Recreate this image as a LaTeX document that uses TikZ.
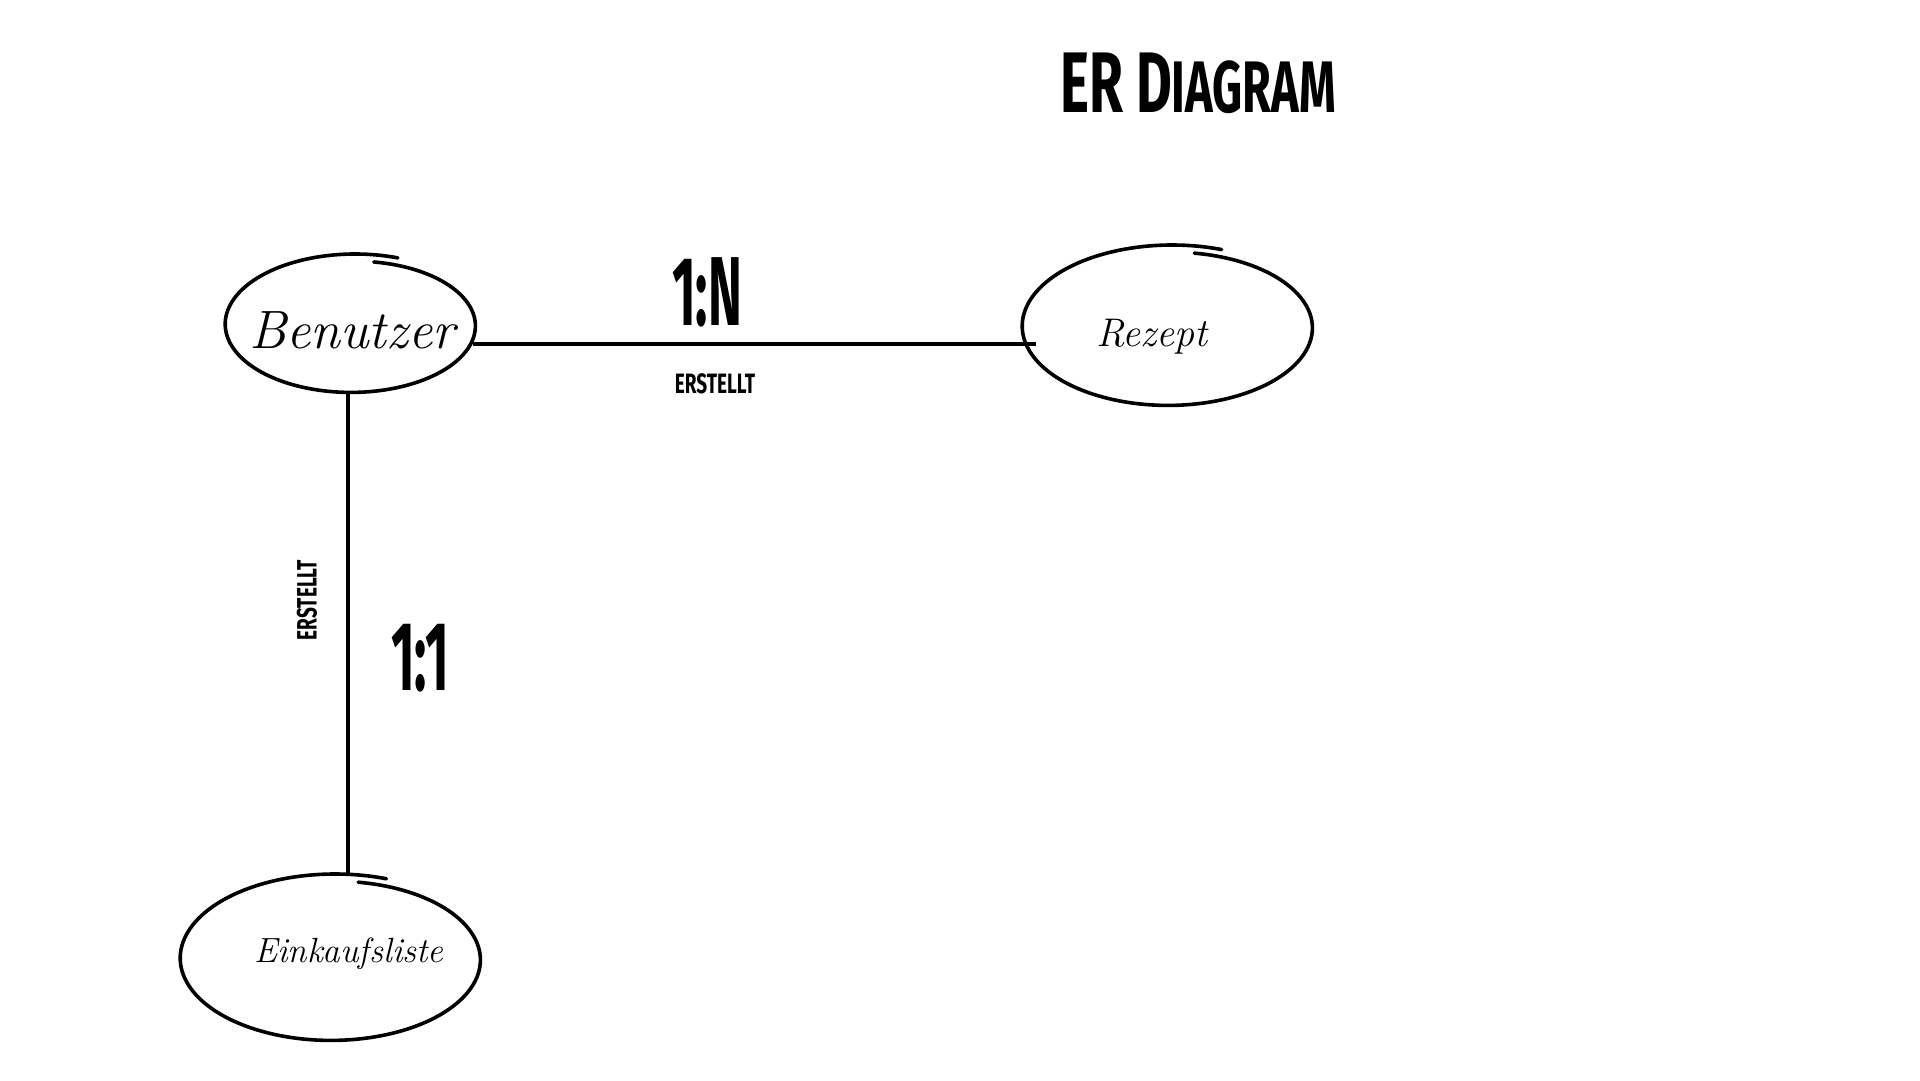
\documentclass[tikz,border=0pt]{standalone}
\usepackage{fontspec}
\usetikzlibrary{shapes.geometric,calc}
\newfontfamily\condfont[FakeStretch=0.68]{Fira Sans}
\newfontfamily\titlefont[FakeStretch=0.64]{Fira Sans}
\newfontfamily\cardfont[FakeStretch=0.52]{Fira Sans}
% hand-drawn (spiral) ellipse around a named node: #1 node, #2 rx, #3 ry at start
\newcommand\handell[3]{%
  \draw[handstroke, shift={(#1.center)}] plot[domain=80:-290, samples=160, smooth]
    ({(#2+0.03*(80-\x))*cos(\x)}, {-(#3+0.02*(80-\x))*sin(\x)});}
\tikzset{
  entity/.style={ellipse, draw=none, inner sep=0pt},
  handstroke/.style={line width=3.6pt, line cap=round, line join=round},
  conn/.style={line width=3.6pt},
  cardlabel/.style={font=\cardfont\bfseries\fontsize{98}{98}\selectfont},
  rellabel/.style={font=\condfont\bfseries\fontsize{28}{28}\selectfont},
}
\begin{document}
\begin{tikzpicture}[x=1pt,y=-1pt]
\path[use as bounding box] (0,0) rectangle (1920,1080);
% title
\node[font=\titlefont\bfseries\fontsize{86}{86}\selectfont] (title) at (1198,83) {ER D{\fontsize{73}{73}\selectfont IAGRAM}};
% entities
\node[entity, minimum width=250pt, minimum height=136pt] (benutzer) at (353,325) {};
\handell{benutzer}{120}{64}
\node[font=\itshape\fontsize{54}{54}\selectfont] (tbenutzer) at (352,330) {Benutzer};
\node[entity, minimum width=290pt, minimum height=158pt] (rezept) at (1170,327) {};
\handell{rezept}{140}{75}
\node[font=\itshape\fontsize{40}{40}\selectfont] (trezept) at (1152,337) {Rezept};
\node[entity, minimum width=300pt, minimum height=166pt] (einkauf) at (333,959) {};
\handell{einkauf}{145}{78}
\node[font=\itshape\fontsize{35}{35}\selectfont] (teinkauf) at (349,954) {Einkaufsliste};
% connectors
\draw[conn] (benutzer.-9) -- ($(benutzer.-9 -| rezept.west)+(11,0)$);
\draw[conn] (benutzer.266) -- (benutzer.266 |- einkauf.north);
% labels
\node[cardlabel] (cardN) at (707,292) {1:N};
\node[rellabel] (relN) at (715,384) {ERSTELLT};
\node[cardlabel] (card1) at (420,658) {1:1};
\node[rellabel, rotate=90] (rel1) at (307,600) {ERSTELLT};
\end{tikzpicture}
\end{document}
